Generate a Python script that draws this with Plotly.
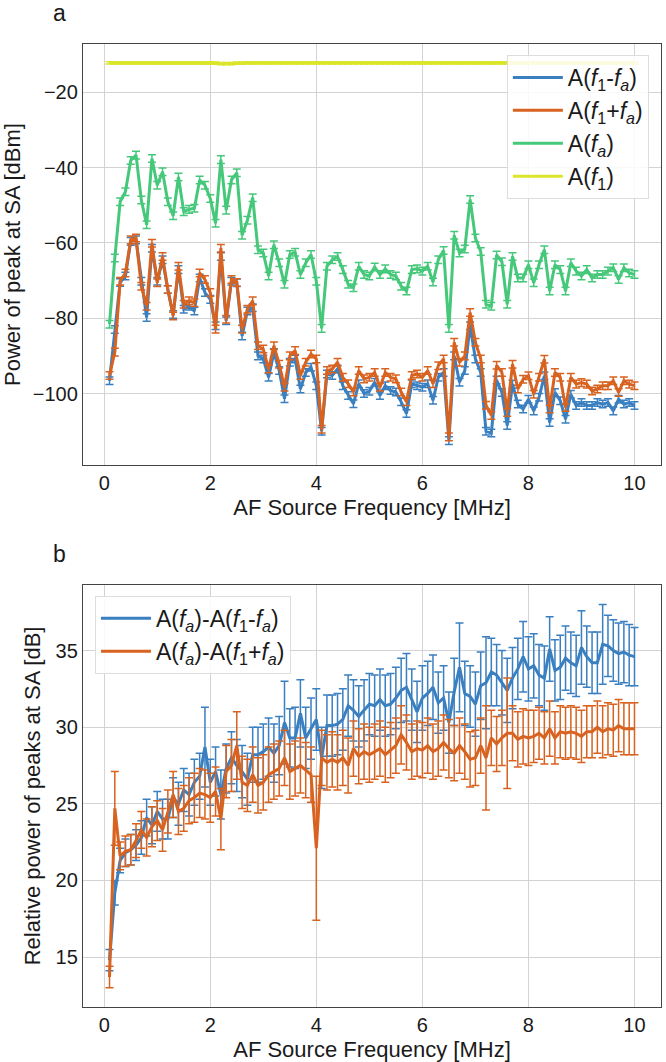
import plotly.graph_objects as go

freq = [round(0.1 * k, 1) for k in range(1, 101)]

# Panel a: power of peaks [dBm]
a_f1_minus_fa = [
    -96.6, -83.0, -70.5, -68.8, -59.6, -59.2, -70.2, -79.8, -61.4, -70.2,
    -64.5, -72.4, -79.0, -67.1, -77.6, -76.8, -78.1, -69.3, -73.2, -75.0,
    -82.0, -63.6, -80.7, -70.2, -70.6, -84.7, -78.1, -77.2, -90.0, -90.8,
    -95.7, -89.1, -93.9, -101.4, -91.7, -90.8, -98.8, -94.4, -93.0, -97.9,
    -110.0, -94.8, -95.2, -93.5, -97.9, -100.5, -102.7, -97.4, -100.0, -99.4,
    -97.0, -100.5, -97.9, -99.2, -99.6, -102.2, -105.3, -97.4, -97.9, -98.3,
    -97.4, -101.8, -95.7, -94.4, -112.5, -90.0, -97.0, -93.9, -82.0, -90.8,
    -94.4, -110.0, -110.5, -96.4, -99.7, -108.5, -97.5, -102.8, -104.1, -101.5,
    -104.6, -101.0, -95.3, -107.7, -99.7, -101.9, -106.8, -100.2, -103.2, -102.4,
    -103.2, -103.2, -102.4, -102.8, -102.4, -104.6, -101.5, -102.8, -102.4, -103.2,
]
a_f1_plus_fa = [
    -95.2, -89.0, -70.2, -68.0, -59.2, -58.7, -71.5, -76.8, -60.1, -70.6,
    -63.6, -72.4, -79.4, -66.2, -76.3, -75.4, -75.9, -68.0, -69.7, -73.2,
    -82.9, -61.4, -80.3, -69.7, -70.5, -82.9, -77.6, -75.4, -87.3, -88.2,
    -93.5, -87.3, -92.2, -98.3, -90.0, -88.6, -95.2, -91.7, -89.5, -90.8,
    -109.5, -93.9, -93.5, -91.7, -95.7, -97.4, -99.6, -93.9, -96.1, -95.7,
    -94.4, -98.3, -94.4, -95.7, -96.1, -99.6, -102.2, -95.2, -94.8, -95.7,
    -93.9, -97.4, -92.6, -90.8, -111.5, -86.4, -91.7, -90.0, -78.5, -86.4,
    -90.8, -103.1, -105.8, -92.5, -94.4, -105.0, -92.2, -98.8, -96.2, -95.3,
    -100.2, -95.7, -90.9, -104.1, -94.4, -95.7, -103.7, -95.7, -97.5, -97.1,
    -97.5, -99.3, -98.8, -97.9, -97.9, -96.6, -99.7, -96.6, -97.5, -97.9,
]
a_fa = [
    -81.6, -64.0, -49.1, -46.4, -38.1, -36.7, -48.6, -55.2, -37.6, -44.7,
    -41.1, -49.1, -52.8, -42.5, -51.7, -51.1, -50.8, -43.3, -44.7, -48.2,
    -54.8, -37.9, -51.3, -43.3, -41.4, -58.0, -54.0, -48.0, -61.8, -62.7,
    -68.8, -60.5, -65.3, -71.0, -63.1, -62.5, -68.4, -65.3, -63.1, -70.2,
    -82.7, -66.2, -64.5, -63.6, -67.1, -71.0, -71.9, -66.2, -68.4, -68.8,
    -66.4, -68.4, -66.9, -68.4, -68.8, -71.5, -72.8, -67.1, -66.9, -67.5,
    -66.2, -70.4, -64.5, -62.0, -82.7, -58.0, -62.7, -61.6, -48.5, -58.7,
    -62.3, -76.3, -76.8, -63.2, -65.0, -76.3, -63.6, -69.3, -69.3, -65.8,
    -70.6, -65.8, -61.8, -72.8, -65.8, -67.1, -72.8, -65.3, -67.5, -68.8,
    -67.1, -69.3, -68.4, -68.4, -67.5, -66.6, -69.7, -66.6, -68.0, -68.4,
]
a_f1 = [
    -12.2, -12.2, -12.2, -12.2, -12.2, -12.2, -12.2, -12.2, -12.2, -12.2,
    -12.2, -12.2, -12.2, -12.2, -12.2, -12.2, -12.2, -12.2, -12.2, -12.2,
    -12.3, -12.4, -12.4, -12.4, -12.3, -12.3, -12.2, -12.2, -12.2, -12.2,
    -12.2, -12.2, -12.2, -12.2, -12.2, -12.2, -12.2, -12.2, -12.2, -12.2,
    -12.2, -12.2, -12.2, -12.2, -12.2, -12.2, -12.2, -12.2, -12.2, -12.2,
    -12.2, -12.2, -12.2, -12.2, -12.2, -12.2, -12.2, -12.2, -12.2, -12.2,
    -12.2, -12.2, -12.2, -12.2, -12.2, -12.2, -12.2, -12.2, -12.2, -12.2,
    -12.2, -12.2, -12.2, -12.2, -12.2, -12.2, -12.2, -12.2, -12.2, -12.2,
    -12.2, -12.2, -12.2, -12.2, -12.2, -12.2, -12.2, -12.2, -12.2, -12.2,
    -12.2, -12.2, -12.2, -12.2, -12.2, -12.2, -12.2, -12.2, -12.2, -12.2,
]

# Panel b: relative power [dB]
rel_minus = [
    14.8, 19.2, 21.3, 21.8, 22.0, 22.3, 22.8, 24.1, 23.6, 24.5,
    24.0, 24.0, 25.4, 25.0, 25.9, 25.6, 26.4, 26.8, 28.7, 26.4,
    27.1, 25.6, 27.3, 28.0, 27.5, 27.1, 26.6, 28.2, 28.2, 28.4,
    28.7, 28.3, 28.8, 30.3, 29.3, 29.3, 30.9, 29.3, 29.9, 30.5,
    28.0, 30.1, 30.1, 30.2, 30.5, 31.4, 31.1, 30.7, 31.1, 31.5,
    31.4, 31.8, 31.4, 31.5, 31.9, 32.4, 32.6, 31.8, 31.0, 31.9,
    32.2, 32.6, 31.6, 31.9, 30.3, 32.3, 33.9, 32.2, 32.0, 31.5,
    32.7, 32.9, 33.6, 33.4, 32.9, 32.4, 33.2, 33.8, 34.6, 33.8,
    34.0, 33.4, 33.2, 35.1, 33.7, 33.9, 34.5, 34.2, 34.0, 35.2,
    34.6, 34.2, 34.2, 35.4, 35.3, 35.0, 34.8, 34.9, 34.7, 34.6,
]
rel_minus_err = [
    0.7, 0.8, 0.8, 0.9, 1.0, 1.0, 1.1, 1.2, 1.2, 1.3,
    1.3, 1.3, 1.3, 1.4, 1.4, 1.4, 1.5, 1.5, 2.6, 1.5,
    1.6, 1.6, 1.6, 1.7, 1.7, 1.7, 1.7, 1.8, 1.8, 1.8,
    1.9, 1.9, 1.9, 2.7, 1.9, 2.0, 2.2, 2.0, 2.0, 2.0,
    2.0, 2.0, 2.0, 2.0, 2.0, 2.0, 2.0, 2.0, 2.0, 2.0,
    2.0, 2.0, 2.0, 2.0, 2.0, 2.1, 2.2, 2.0, 2.0, 2.1,
    2.1, 2.1, 2.0, 2.1, 2.0, 2.2, 2.9, 2.1, 2.0, 2.1,
    2.2, 3.0, 2.2, 2.0, 2.1, 2.1, 2.0, 2.0, 2.3, 2.1,
    2.1, 2.0, 2.1, 2.1, 2.0, 2.1, 2.1, 2.0, 2.0, 2.4,
    2.0, 2.0, 2.0, 2.6, 2.0, 2.0, 2.0, 2.0, 2.0, 1.9,
]
rel_plus = [
    13.7, 24.7, 21.6, 21.9, 22.0, 22.6, 23.3, 22.8, 23.5, 23.9,
    23.3, 24.5, 25.6, 24.5, 24.7, 25.2, 25.4, 25.7, 25.6, 25.4,
    25.8, 24.0, 27.1, 27.5, 28.8, 26.4, 26.2, 26.9, 26.2, 26.4,
    26.9, 27.1, 27.3, 28.0, 27.1, 27.3, 27.5, 27.2, 26.9, 22.1,
    28.0, 27.7, 27.9, 27.7, 28.0, 27.5, 28.6, 28.1, 28.4, 28.2,
    28.4, 28.6, 28.2, 28.5, 28.8, 29.5, 29.0, 28.4, 28.6, 28.5,
    28.8, 28.4, 28.6, 29.0, 28.6, 28.3, 28.8, 28.4, 27.9, 28.0,
    28.8, 28.0, 29.3, 28.9, 29.3, 29.6, 29.6, 29.2, 29.4, 29.3,
    29.4, 29.6, 29.3, 29.9, 29.3, 29.7, 29.6, 29.7, 29.6, 29.4,
    29.7, 29.7, 30.0, 29.7, 29.9, 29.8, 30.1, 29.9, 29.9, 29.9,
]
rel_plus_err = [
    0.7, 2.4, 0.9, 1.0, 1.0, 1.1, 1.2, 1.2, 1.3, 1.3,
    1.4, 1.4, 1.5, 1.5, 1.5, 1.5, 1.6, 1.6, 1.6, 1.6,
    1.6, 2.0, 1.7, 1.7, 2.2, 1.7, 1.7, 1.8, 1.8, 1.8,
    1.8, 1.8, 1.8, 1.8, 1.8, 1.8, 1.8, 1.8, 1.8, 4.7,
    1.8, 1.8, 1.8, 1.8, 1.8, 1.8, 1.8, 1.8, 1.8, 1.8,
    1.8, 1.8, 1.8, 1.8, 1.8, 1.9, 1.8, 1.8, 1.8, 1.8,
    1.8, 1.8, 1.8, 1.8, 1.9, 1.8, 1.8, 1.8, 1.8, 1.8,
    1.8, 3.4, 1.8, 1.8, 1.8, 3.6, 1.8, 1.8, 1.8, 1.8,
    1.7, 1.7, 1.7, 1.8, 1.7, 1.7, 1.7, 1.7, 1.7, 1.7,
    1.7, 1.7, 1.7, 1.7, 1.7, 1.7, 1.7, 1.7, 1.7, 1.7,
]

BLUE = "#3a7fc0"
ORANGE = "#d8621f"
GREEN = "#45c87a"
YELLOW = "#dbe52a"
FONT = "Liberation Sans, Arial, sans-serif"
TXT = "#1a1a1a"


def trace(y, color, name, err, xa, ya, legend, group, err_const=None):
    if err_const is not None:
        ey = dict(type="constant", value=err_const, visible=True,
                  color=color, thickness=1.5, width=4)
    else:
        ey = dict(type="data", array=err, visible=True,
                  color=color, thickness=1.5, width=4)
    return go.Scatter(x=freq, y=y, mode="lines", name=name,
                      line=dict(color=color, width=3),
                      error_y=ey, xaxis=xa, yaxis=ya, legend=legend,
                      legendgroup=group)


fig = go.Figure()
fig.add_trace(trace(a_f1_minus_fa, BLUE, "A(<i>f</i><sub>1</sub>-<i>f<sub>a</sub></i>)",
                    None, "x", "y", "legend", "g1", 1.0))
fig.add_trace(trace(a_f1_plus_fa, ORANGE, "A(<i>f</i><sub>1</sub>+<i>f<sub>a</sub></i>)",
                    None, "x", "y", "legend", "g2", 1.0))
fig.add_trace(trace(a_fa, GREEN, "A(<i>f<sub>a</sub></i>)",
                    None, "x", "y", "legend", "g3", 1.0))
fig.add_trace(trace(a_f1, YELLOW, "A(<i>f</i><sub>1</sub>)",
                    None, "x", "y", "legend", "g4", 0.3))
fig.add_trace(trace(rel_minus, BLUE,
                    "A(<i>f<sub>a</sub></i>)-A(<i>f</i><sub>1</sub>-<i>f<sub>a</sub></i>)",
                    rel_minus_err, "x2", "y2", "legend2", "h1"))
fig.add_trace(trace(rel_plus, ORANGE,
                    "A(<i>f<sub>a</sub></i>)-A(<i>f</i><sub>1</sub>+<i>f<sub>a</sub></i>)",
                    rel_plus_err, "x2", "y2", "legend2", "h2"))

axis_common = dict(showgrid=True, gridcolor="#d3d3d3", gridwidth=1,
                   showline=True, linecolor="#444444", linewidth=1.3,
                   mirror=True, ticks="", zeroline=False,
                   tickfont=dict(size=20, color=TXT, family=FONT),
                   title_font=dict(size=22, color=TXT, family=FONT))

fig.update_layout(
    width=666, height=1062,
    margin=dict(l=83, r=4, t=44, b=53),
    paper_bgcolor="white", plot_bgcolor="white",
    font=dict(family=FONT, size=20, color=TXT),
    showlegend=True,
    xaxis=dict(domain=[0, 1], anchor="y", range=[-0.4, 10.5],
               tickvals=[0, 2, 4, 6, 8, 10],
               title=dict(text="AF Source Frequency [MHz]", standoff=6),
               **axis_common),
    yaxis=dict(domain=[0.5627, 1], anchor="x", range=[-119, -7.2],
               tickvals=[-100, -80, -60, -40, -20],
               title=dict(text="Power of peak at SA [dBm]", standoff=8),
               **axis_common),
    xaxis2=dict(domain=[0, 1], anchor="y2", range=[-0.4, 10.5],
                tickvals=[0, 2, 4, 6, 8, 10],
                title=dict(text="AF Source Frequency [MHz]", standoff=6),
                **axis_common),
    yaxis2=dict(domain=[0, 0.4383], anchor="x2", range=[11.74, 39.28],
                tickvals=[15, 20, 25, 30, 35],
                title=dict(text="Relative power of peaks at SA [dB]", standoff=8),
                **axis_common),
    legend=dict(x=0.979, y=0.9886, xanchor="right", yanchor="top",
                bgcolor="rgba(255,255,255,0.85)", bordercolor="#dddddd",
                borderwidth=1, font=dict(size=23, family=FONT, color=TXT),
                tracegroupgap=0, itemwidth=50),
    legend2=dict(x=0.0207, y=0.427, xanchor="left", yanchor="top",
                 bgcolor="rgba(255,255,255,0.85)", bordercolor="#dddddd",
                 borderwidth=1, font=dict(size=23, family=FONT, color=TXT),
                 tracegroupgap=0, itemwidth=50),
    annotations=[
        dict(text="a", x=-0.056, y=1.0, xref="paper", yref="paper",
             xanchor="left", yanchor="bottom", yshift=16, showarrow=False,
             font=dict(size=23, family=FONT, color=TXT)),
        dict(text="b", x=-0.056, y=0.4383, xref="paper", yref="paper",
             xanchor="left", yanchor="bottom", yshift=16, showarrow=False,
             font=dict(size=23, family=FONT, color=TXT)),
    ],
)

fig.write_html("out.html")
